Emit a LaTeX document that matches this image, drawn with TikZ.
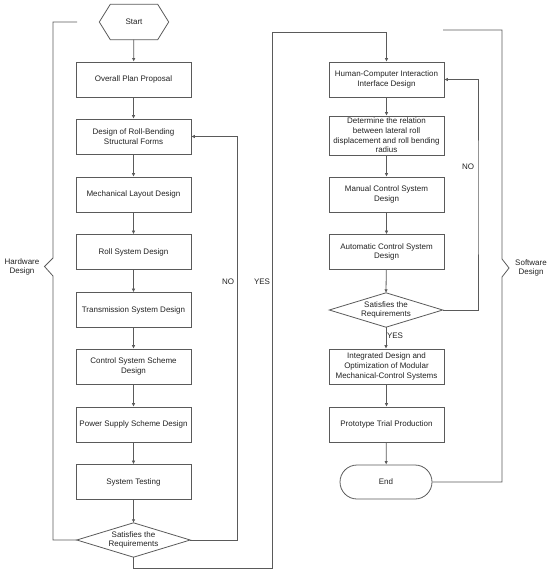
\documentclass[tikz,border=0pt]{standalone}
\usepackage{fontspec}
\setmainfont{Liberation Sans}
\usetikzlibrary{arrows.meta}
\definecolor{ln}{HTML}{5A5A5A}
\definecolor{tx}{HTML}{222222}
\begin{document}
\begin{tikzpicture}[x=1pt,y=-1pt,
  every node/.style={font=\fontsize{8}{9.6}\selectfont, text=tx},
  line/.style={draw=ln, line width=0.8pt},
  arr/.style={line, -{Latex[length=3.5pt,width=3.5pt]}},
  stepbox/.style={draw=ln, line width=0.8pt, rectangle, minimum width=115pt, minimum height=35pt, align=center, inner sep=1pt},
  decbox/.style={minimum width=113pt, minimum height=34pt, align=center, inner sep=0pt},
  lbl/.style={align=center}]
\useasboundingbox (0,0) rectangle (550,572);
% left column
\node[minimum width=69pt, minimum height=35pt, inner sep=0pt] (start) at (134,22) {Start};
\draw[line] (start.west) -- ([xshift=11pt]start.north west) -- ([xshift=-11pt]start.north east) -- (start.east) -- ([xshift=-11pt]start.south east) -- ([xshift=11pt]start.south west) -- cycle;
\node[stepbox] (b1) at (133.5,79.5) {Overall Plan Proposal};
\node[stepbox] (b2) at (133.5,136.5) {Design of Roll-Bending\\Structural Forms};
\node[stepbox] (b3) at (133.5,194.5) {Mechanical Layout Design};
\node[stepbox] (b4) at (133.5,252) {Roll System Design};
\node[stepbox] (b5) at (133.5,310) {Transmission System Design};
\node[stepbox] (b6) at (133.5,366.5) {Control System Scheme\\Design};
\node[stepbox] (b7) at (133.5,424.5) {Power Supply Scheme Design};
\node[stepbox] (b8) at (133.5,482) {System Testing};
\node[decbox] (d1) at (133.5,540) {Satisfies the\\Requirements};
\draw[line] (d1.west) -- (d1.north) -- (d1.east) -- (d1.south) -- cycle;
\draw[arr] (start) -- (b1);
\draw[arr] (b1) -- (b2);
\draw[arr] (b2) -- (b3);
\draw[arr] (b3) -- (b4);
\draw[arr] (b4) -- (b5);
\draw[arr] (b5) -- (b6);
\draw[arr] (b6) -- (b7);
\draw[arr] (b7) -- (b8);
\draw[arr] (b8) -- (d1);
% NO loop left
\coordinate (nox) at (237.5,300);
\draw[arr] (d1.east) -| (nox) |- (b2.east);
\node (no1) at (228,282) {NO};
% right column
\node[stepbox] (r1) at (386.5,79.5) {Human-Computer Interaction\\Interface Design};
\node[stepbox, minimum height=39pt] (r2) at (386.5,135.5) {Determine the relation\\between lateral roll\\displacement and roll bending\\radius};
\node[stepbox] (r3) at (386.5,194.5) {Manual Control System\\Design};
\node[stepbox] (r4) at (386.5,252) {Automatic Control System\\Design};
\node[decbox] (d2) at (386,310) {Satisfies the\\Requirements};
\draw[line] (d2.west) -- (d2.north) -- (d2.east) -- (d2.south) -- cycle;
\node[stepbox] (r5) at (386.5,366.5) {Integrated Design and\\Optimization of Modular\\Mechanical-Control Systems};
\node[stepbox] (r6) at (386.5,424.5) {Prototype Trial Production};
\node[draw=ln, line width=0.8pt, rectangle, rounded corners=17pt, minimum width=92pt, minimum height=34pt] (end) at (386,482) {End};
\draw[arr] (r1) -- (r2);
\draw[arr] (r2) -- (r3);
\draw[arr] (r3) -- (r4);
\draw[arr] (r4) -- (d2.north);
\draw[arr] (d2.south) -- (d2.south |- r5.north);
\draw[arr] (r5) -- (r6);
\draw[arr] (r6) -- (end);
\node (yes2) at (395,336) {YES};
% NO loop right
\coordinate (nor) at (478,200);
\draw[arr] (d2.east) -| (nor) |- (r1.east);
\node (no2) at (468,167) {NO};
% YES connection
\coordinate (yb) at (272,568);
\coordinate (yt) at (272,32);
\draw[arr] (d1.south) |- (yb) -- (yt) -| (r1.north);
\node (yes1) at (262,282) {YES};
% hardware brace
\coordinate (h1) at (53,540);
\coordinate (h2) at (53,276);
\coordinate (h3) at (44.5,266.5);
\coordinate (h4) at (53,258);
\coordinate (h5) at (53,22);
\coordinate (h6) at (77,22);
\draw[line] (d1.west) -- (h1) -- (h2) -- (h3) -- (h4) -- (h5) -- (h6);
\node[lbl] (hw) at (22,267) {Hardware\\Design};
% software brace
\coordinate (s1) at (502,482);
\coordinate (s2) at (502,277);
\coordinate (s3) at (509,268);
\coordinate (s4) at (502,259);
\coordinate (s5) at (502,30);
\coordinate (s6) at (443,30);
\draw[line] (end.east) -- (s1) -- (s2) -- (s3) -- (s4) -- (s5) -- (s6);
\node[lbl] (sw) at (531,268) {Software\\Design};
\end{tikzpicture}
\end{document}
